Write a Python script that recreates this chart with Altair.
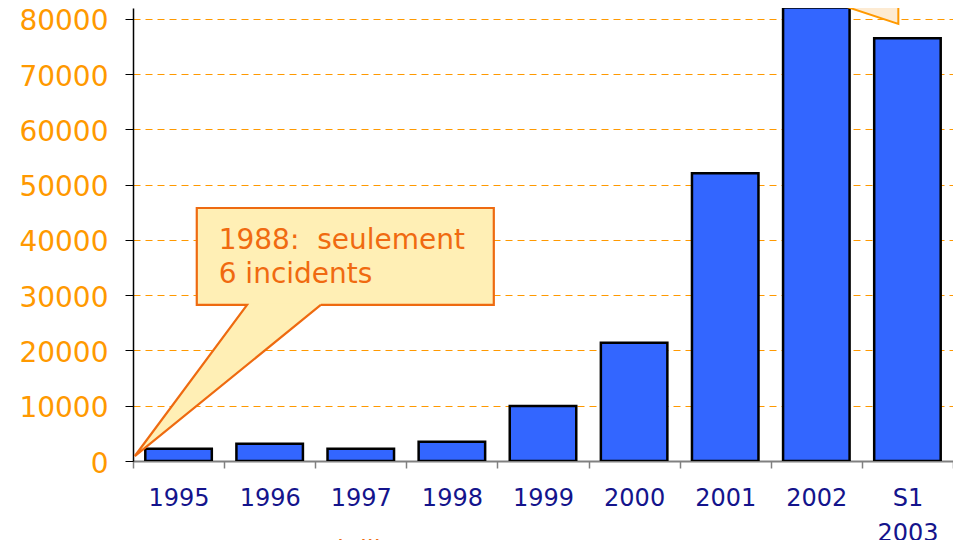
import altair as alt
import pandas as pd

# ---- data ----
years = ["1995", "1996", "1997", "1998", "1999", "2000", "2001", "2002", "S1 2003"]
incidents = [2200, 3100, 2200, 3500, 9950, 21400, 52100, 82100, 76500]
y_ticks = [0, 10000, 20000, 30000, 40000, 50000, 60000, 70000, 80000]
y_max = 81990

# annotation geometry, x in category steps from the left axis, y in incidents
callout_lines = ["1988:\u00a0 seulement", "6 incidents"]
callout_text_x = [0.94, 0.94]
callout_text_y = [38370, 32220]
box_x = [0.70, 3.96]
box_y = [28240, 45790]
pointer_tip = [0.02, 900]
pointer_base_x = [1.252, 2.061]

# second (cut-off) callout pointer at top right
ptr2_x = [6.944, 8.40]
ptr2_y_top = 87060
ptr2_tip_y = 79100

source_text = "Source : CERT, juillet 2003"
source_x = 0.153
source_y = -17600

# ---- tables ----
bars_df = pd.DataFrame({"year": years, "n": incidents})

outline_pts = [
    (pointer_base_x[1], box_y[0]),
    (box_x[1], box_y[0]),
    (box_x[1], box_y[1]),
    (box_x[0], box_y[1]),
    (box_x[0], box_y[0]),
    (pointer_base_x[0], box_y[0]),
    (pointer_tip[0], pointer_tip[1]),
    (pointer_base_x[1], box_y[0]),
]
outline_df = pd.DataFrame({"x": [p[0] for p in outline_pts],
                           "y": [p[1] for p in outline_pts],
                           "o": list(range(len(outline_pts)))})

slope = (box_y[0] - pointer_tip[1]) / (pointer_base_x[1] - pointer_tip[0])
mid_lower = pointer_tip[1] + slope * (pointer_base_x[0] - pointer_tip[0])
ptr_fill_df = pd.DataFrame({
    "x": [pointer_tip[0], pointer_base_x[0], pointer_base_x[1]],
    "y": [pointer_tip[1], box_y[0] + 300, box_y[0] + 300],
    "y2": [pointer_tip[1], mid_lower, box_y[0]],
})
box_df = pd.DataFrame({"x": [box_x[0]], "x2": [box_x[1]], "y": [box_y[0]], "y2": [box_y[1]]})
text_df = pd.DataFrame({"x": callout_text_x, "y": callout_text_y, "t": callout_lines})

ptr2_fill_df = pd.DataFrame({"x": ptr2_x, "y": [ptr2_y_top, ptr2_y_top], "y2": [ptr2_y_top, ptr2_tip_y]})
ptr2_line_df = pd.DataFrame({"x": [ptr2_x[0], ptr2_x[1], ptr2_x[1]],
                             "y": [ptr2_y_top, ptr2_tip_y, ptr2_y_top],
                             "o": [0, 1, 2]})
source_df = pd.DataFrame({"x": [source_x], "y": [source_y], "t": [source_text]})

FONT = "DejaVu Sans"
yscale = alt.Scale(domain=[0, y_max], nice=False, zero=False)
xq_scale = alt.Scale(domain=[0, 9], nice=False, zero=False)

bars = alt.Chart(bars_df).mark_bar(
    width=alt.RelativeBandSize(0.73), fill="#3366FF", stroke="black", strokeWidth=2.5, clip=True
).encode(
    x=alt.X("year:N", sort=years, title=None,
            scale=alt.Scale(paddingInner=0, paddingOuter=0),
            axis=alt.Axis(labelAngle=0, labelFont=FONT, labelFontSize=24, labelColor="#14148C",
                          tickBand="extent", tickColor="#808080", tickSize=7, tickWidth=1.5,
                          domainColor="#808080", domainWidth=2, labelPadding=18,
                          labelLineHeight=35, grid=False,
                          labelExpr="datum.value == 'S1 2003' ? ['S1', '2003'] : datum.label")),
    y=alt.Y("n:Q", scale=yscale, title=None,
            axis=alt.Axis(values=y_ticks, format="d", labelFont=FONT, labelFontSize=28,
                          labelColor="#FF9900", labelOffset=3, tickColor="black", tickSize=8,
                          tickWidth=1, domainColor="black", domainWidth=1.5, labelPadding=17,
                          grid=True, gridColor="#FF9900", gridDash=[7, 5], gridWidth=1)),
)

def qx(field="x"):
    return alt.X(f"{field}:Q", scale=xq_scale, axis=None)

def qy(field="y"):
    return alt.Y(f"{field}:Q", scale=yscale, axis=None)

box = alt.Chart(box_df).mark_rect(fill="#FFEFB5", strokeWidth=0).encode(
    x=qx(), x2="x2:Q", y=qy(), y2="y2:Q")
ptr_fill = alt.Chart(ptr_fill_df).mark_area(fill="#FFEFB5", strokeWidth=0, opacity=1).encode(
    x=qx(), y=qy(), y2="y2:Q")
outline = alt.Chart(outline_df).mark_line(stroke="#EE6A10", strokeWidth=2.2, strokeJoin="miter").encode(
    x=qx(), y=qy(), order="o:Q")
texts = alt.Chart(text_df).mark_text(align="left", baseline="alphabetic", font=FONT, fontSize=28,
                                     color="#F06A10").encode(x=qx(), y=qy(), text="t:N")

ptr2_fill = alt.Chart(ptr2_fill_df).mark_area(fill="#FDEBD3", strokeWidth=0, opacity=1, clip=True).encode(
    x=qx(), y=qy(), y2="y2:Q")
ptr2_line = alt.Chart(ptr2_line_df).mark_line(stroke="#FF9900", strokeWidth=2, clip=True).encode(
    x=qx(), y=qy(), order="o:Q")

source = alt.Chart(source_df).mark_text(align="left", baseline="alphabetic", font=FONT, fontSize=25,
                                        color="#F06A10").encode(x=qx(), y=qy(), text="t:N")

annot = alt.layer(box, ptr_fill, outline, texts, ptr2_fill, ptr2_line, source)

chart = alt.layer(bars, annot).resolve_scale(x="independent").resolve_axis(
    x="independent", y="independent"
).properties(
    width=820, height=453,
    background="white",
    autosize=alt.AutoSizeParams(type="none"),
    padding={"left": 125, "top": 0, "right": 0, "bottom": 80},
).configure_view(stroke=None)

chart.save("out.html", embed_options={"renderer": "svg", "actions": False})
